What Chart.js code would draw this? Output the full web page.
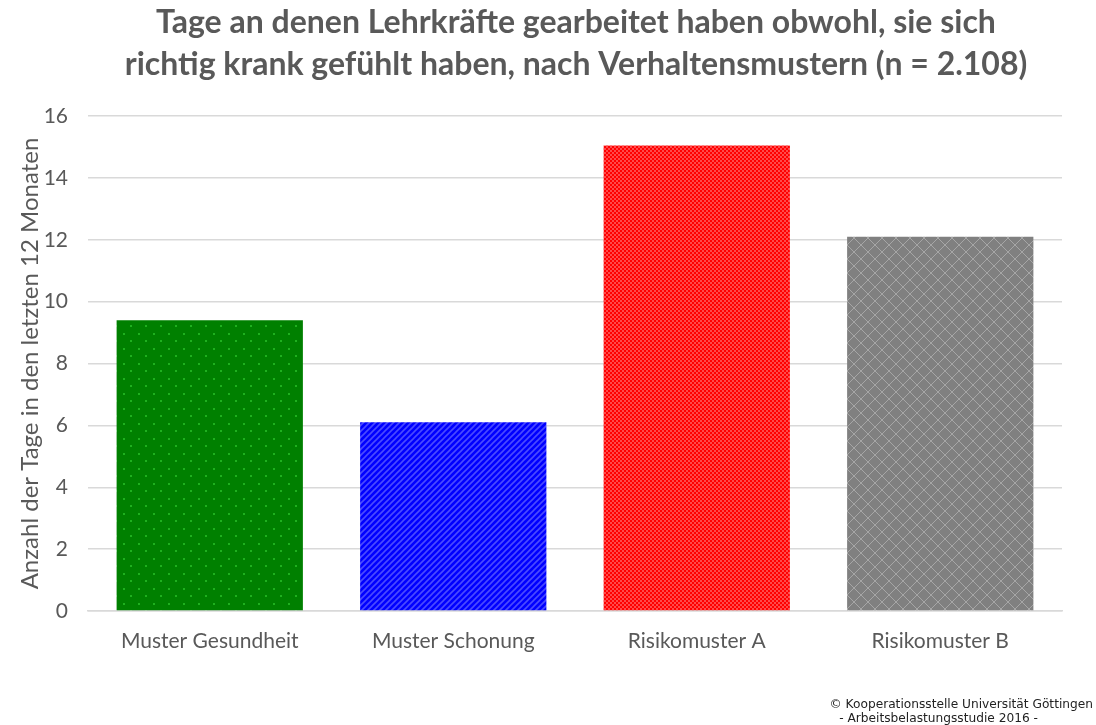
<!DOCTYPE html>
<html>
<head>
<meta charset="utf-8">
<script src="https://cdn.jsdelivr.net/npm/chart.js@4"></script>
<style>
  html, body { margin: 0; padding: 0; background: #fff; }
  #wrap { position: relative; width: 1096px; height: 725px; }
  .foot { position: absolute; font: 12.2px "DejaVu Sans", sans-serif; color: #222; white-space: nowrap; }
</style>
</head>
<body>
<div id="wrap">
  <canvas id="chart" width="1096" height="725"></canvas>
  <div class="foot" style="top:697px; right:3px;">© Kooperationsstelle Universität Göttingen</div>
  <div class="foot" style="top:711px; right:58px;">- Arbeitsbelastungsstudie 2016 -</div>
</div>
<script>
const categories = ['Muster Gesundheit', 'Muster Schonung', 'Risikomuster A', 'Risikomuster B'];
const tageKrank  = [9.4, 6.1, 15.05, 12.1];
const titleLines = ['Tage an denen Lehrkräfte gearbeitet haben obwohl, sie sich',
                    'richtig krank gefühlt haben, nach Verhaltensmustern (n = 2.108)'];
const yTitle = 'Anzahl der Tage in den letzten 12 Monaten';

// small tiles for the fill textures
function tile(size, draw){
  const c = document.createElement('canvas');
  c.width = size; c.height = size;
  draw(c.getContext('2d'), size);
  return c.getContext('2d').createPattern(c, 'repeat');
}

const dots = tile(15, (g, s) => {
  g.fillStyle = '#008000'; g.fillRect(0, 0, s, s);
  g.fillStyle = '#1fb01f';
  g.fillRect(3, 3, 2, 2); g.fillRect(10, 10, 2, 2);
});
const stripes = tile(6, (g, s) => {
  g.fillStyle = '#0000ff'; g.fillRect(0, 0, s, s);
  g.strokeStyle = '#4a4aff'; g.lineWidth = 1.6;
  g.beginPath();
  g.moveTo(0, s); g.lineTo(s, 0);
  g.moveTo(-2, 2); g.lineTo(2, -2);
  g.moveTo(s - 2, s + 2); g.lineTo(s + 2, s - 2);
  g.stroke();
});
const checker = tile(4, (g, s) => {
  g.fillStyle = '#ff0000'; g.fillRect(0, 0, s, s);
  g.fillStyle = '#ff4a4a';
  g.fillRect(0, 0, 2, 2); g.fillRect(2, 2, 2, 2);
});
const lattice = tile(14, (g, s) => {
  g.fillStyle = '#808080'; g.fillRect(0, 0, s, s);
  g.strokeStyle = '#a6a6a6'; g.lineWidth = 1;
  g.beginPath();
  g.moveTo(0, 0); g.lineTo(s, s);
  g.moveTo(0, s); g.lineTo(s, 0);
  g.stroke();
});

// title drawn by hand so it can sit off-centre like the original
const titlePlugin = {
  id: 'titleText',
  afterDraw(chart){
    const ctx = chart.ctx;
    ctx.save();
    ctx.font = 'bold 32px Lato';
    ctx.fillStyle = '#595959';
    ctx.textAlign = 'center';
    ctx.textBaseline = 'middle';
    ctx.fillText(titleLines[0], 576, 23);
    ctx.fillText(titleLines[1], 576, 65);
    ctx.restore();
  }
};

new Chart(document.getElementById('chart'), {
  type: 'bar',
  data: {
    labels: categories,
    datasets: [{
      data: tageKrank,
      backgroundColor: [dots, stripes, checker, lattice],
      borderWidth: 0,
      categoryPercentage: 0.765,
      barPercentage: 1
    }]
  },
  options: {
    responsive: false,
    animation: false,
    layout: { padding: { left: 0, right: 34, top: 116, bottom: 0 } },
    plugins: {
      legend: { display: false },
      tooltip: { enabled: false },
      title: { display: false }
    },
    scales: {
      x: {
        grid: { display: false },
        border: { color: '#d9d9d9', width: 1.5 },
        ticks: { color: '#595959', font: { family: 'Lato', size: 21 }, padding: 10 },
        afterFit: (axis) => { axis.height = 114; }
      },
      y: {
        min: 0, max: 16,
        ticks: { stepSize: 2, color: '#595959', font: { family: 'Lato', size: 21 }, padding: 20 },
        grid: { color: '#d9d9d9', lineWidth: 1.5, drawTicks: false },
        border: { display: false },
        title: { display: true, text: yTitle, color: '#595959', font: { family: 'Lato', size: 24 }, padding: { top: 16, bottom: 0 } },
        afterFit: (axis) => { axis.width = 88; }
      }
    }
  },
  plugins: [titlePlugin]
});
</script>
</body>
</html>
